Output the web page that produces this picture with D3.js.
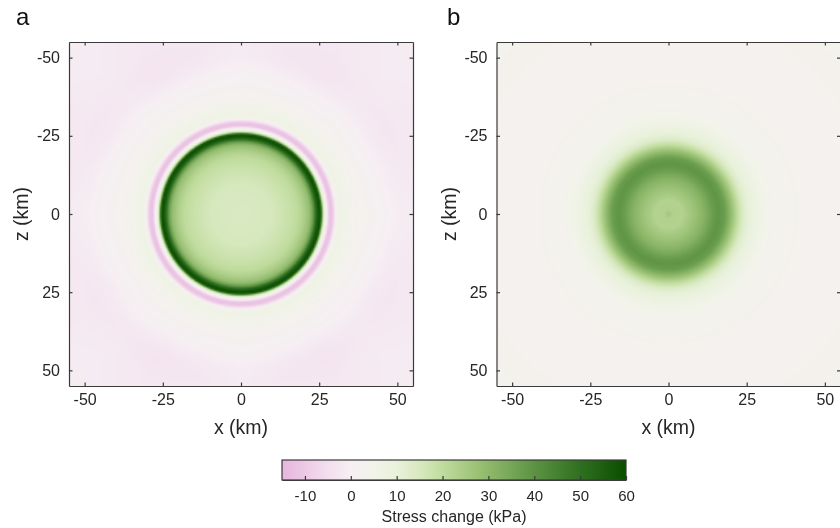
<!DOCTYPE html>
<html lang="en">
<head>
    <meta charset="UTF-8">
    <title>Stress change</title>
    <script src="https://d3js.org/d3.v7.min.js"></script>
    <style>
        html, body { margin: 0; padding: 0; background: #fff; overflow: hidden; }
        #wrap { position: relative; width: 840px; height: 528px; }
        canvas, svg { position: absolute; left: 0; top: 0; }
        text { font-family: "Liberation Sans", Arial, sans-serif; fill: #262626; }
        .axis path, .axis line { stroke: #3a3a3a; stroke-width: 1.2px; }
        .axis text { fill: #262626; }
    </style>
</head>
<body>
<div id="wrap"></div>

<script>

    // colour map
    const colorValues = [-15, -10, -5, 0, 5, 10, 15, 20, 30, 40, 50, 60];
    const colorStops = ['#e6b6dc', '#edc9e6', '#f3dfee', '#f6eff3', '#f2f3ea', '#e8f1da',
        '#d8e9c0', '#c0dc9d', '#8fb96a', '#5c9343', '#2f7020', '#0b4d00'];

    // radial stress profile of panel a: radius (km), stress (kPa)
    const radiusA = [0, 5, 10, 15, 18, 20, 22, 23, 24, 25, 25.6, 26.2, 26.8, 27.3, 27.8, 28.2, 28.9, 29.5, 30, 30.5, 31.2, 32.2, 34, 37, 41, 45, 50, 54, 60, 80];
    const stressA = [14.5, 15, 15.5, 18, 20, 23.5, 29, 37, 52, 60, 54, 20, 5, 2, -5, -11, -12, -8.5, -3, 2, 6, 6.5, 5, 3, 1.2, 0, -2.2, -2.8, -2, -1];

    // radial stress profile of panel b
    const radiusB = [0, 0.5, 1.5, 3, 4.5, 5.5, 8, 11, 14, 16, 18, 20, 22, 24, 26, 28, 31, 35, 40, 50, 60, 80];
    const stressB = [28, 25, 23, 23, 22.5, 24, 27, 31, 37, 39.5, 37, 29, 20, 13, 9.5, 7.5, 5, 3.8, 3.2, 2, 3, 3.2];

    // angular strength of the far field ring, degrees away from the z axis
    const lobeAngles = [0, 15, 30, 45, 60, 75, 90];
    const lobeGain = [0.75, 1, 1.1, 0.9, 1, 0.85, 0.7];

    const xTicks = [-50, -25, 0, 25, 50];
    const zTicks = [-50, -25, 0, 25, 50];
    const barTicks = [-10, 0, 10, 20, 30, 40, 50, 60];

    const width = 840;
    const height = 528;
    const limit = 55;
    const cellsPerSide = 220;

    const color = d3.scaleLinear().domain(colorValues).range(colorStops).clamp(true);
    const plainNumber = d => String(d);

    const wrap = d3.select('#wrap');
    const svg = wrap.append('svg').attr('width', width).attr('height', height);
    const canvas = wrap.insert('canvas', 'svg').attr('width', width).attr('height', height);
    const ctx = canvas.node().getContext('2d');
    ctx.imageSmoothingEnabled = true;

    const panels = [
        { label: 'a', labelX: 16, left: 69, radius: radiusA, stress: stressA, lobes: true },
        { label: 'b', labelX: 447, left: 496.5, radius: radiusB, stress: stressB, lobes: false }
    ];

    panels.forEach(p => {
        const x = d3.scaleLinear().domain([-limit, limit]).range([p.left, p.left + 344]);
        const z = d3.scaleLinear().domain([-limit, limit]).range([42, 386]);
        const profile = d3.scaleLinear().domain(p.radius).range(p.stress);
        const gain = d3.scaleLinear().domain(lobeAngles).range(lobeGain);

        // stress field, one cell at a time
        const cells = document.createElement('canvas');
        cells.width = cells.height = cellsPerSide;
        const cellCtx = cells.getContext('2d');
        const image = cellCtx.createImageData(cellsPerSide, cellsPerSide);
        const cellPos = d3.scaleLinear().domain([0, cellsPerSide]).range([-limit, limit]);
        for (let j = 0; j < cellsPerSide; j++) {
            for (let i = 0; i < cellsPerSide; i++) {
                const cx = cellPos(i + 0.5);
                const cz = cellPos(j + 0.5);
                const r = Math.hypot(cx, cz);
                let v = profile(r);
                if (p.lobes && r > 34 && v < 3) {
                    const angle = Math.atan2(Math.abs(cx), Math.abs(cz)) * 180 / Math.PI;
                    v = 3 + (v - 3) * gain(angle);
                }
                const c = d3.rgb(color(v));
                const k = (j * cellsPerSide + i) * 4;
                image.data[k] = c.r;
                image.data[k + 1] = c.g;
                image.data[k + 2] = c.b;
                image.data[k + 3] = 255;
            }
        }
        cellCtx.putImageData(image, 0, 0);
        ctx.drawImage(cells, x(-limit), z(-limit), x(limit) - x(-limit), z(limit) - z(-limit));

        // box with inward ticks on all four sides
        const axes = [
            { gen: d3.axisBottom(x).tickValues(xTicks).tickSize(-3.5).tickPadding(8).tickFormat(plainNumber), pos: [0, z(limit)] },
            { gen: d3.axisTop(x).tickValues(xTicks).tickSize(-3.5).tickFormat(''), pos: [0, z(-limit)] },
            { gen: d3.axisLeft(z).tickValues(zTicks).tickSize(-3.5).tickPadding(9).tickFormat(plainNumber), pos: [x(-limit), 0] },
            { gen: d3.axisRight(z).tickValues(zTicks).tickSize(-3.5).tickFormat(''), pos: [x(limit), 0] }
        ];
        axes.forEach(a => {
            const g = svg.append('g').attr('class', 'axis')
                .attr('transform', `translate(${a.pos[0]},${a.pos[1]})`)
                .call(a.gen.tickSizeOuter(0));
            g.selectAll('text').style('font-size', '16px').style('font-family', '"Liberation Sans"');
        });

        svg.append('text').attr('x', x(0)).attr('y', 434)
            .attr('text-anchor', 'middle').style('font-size', '19.5px').text('x (km)');
        svg.append('text').attr('transform', `translate(${p.left - 41},${z(0)}) rotate(-90)`)
            .attr('text-anchor', 'middle').style('font-size', '19.5px').text('z (km)');
        svg.append('text').attr('x', p.labelX).attr('y', 25)
            .style('font-size', '24px').style('fill', '#111').text(p.label);
    });

    // colour bar
    const bar = d3.scaleLinear().domain([-15, 60]).range([282, 626]);
    const grad = svg.append('defs').append('linearGradient').attr('id', 'barGradient');
    grad.selectAll('stop').data(colorValues).enter().append('stop')
        .attr('offset', d => (d + 15) / 75)
        .attr('stop-color', (d, i) => colorStops[i]);

    svg.append('rect').attr('x', bar(-15)).attr('y', 460)
        .attr('width', bar(60) - bar(-15)).attr('height', 20)
        .attr('fill', 'url(#barGradient)')
        .attr('stroke', '#3a3a3a').attr('stroke-width', 1.2);

    const barAxis = svg.append('g').attr('class', 'axis')
        .attr('transform', 'translate(0,480)')
        .call(d3.axisBottom(bar).tickValues(barTicks).tickSize(-4).tickSizeOuter(0).tickPadding(10).tickFormat(plainNumber));
    barAxis.selectAll('text').style('font-size', '15px').style('font-family', '"Liberation Sans"');

    svg.append('text').attr('x', bar(-15) + 172).attr('y', 522)
        .attr('text-anchor', 'middle').style('font-size', '16px').text('Stress change (kPa)');

</script>

</body>
</html>
